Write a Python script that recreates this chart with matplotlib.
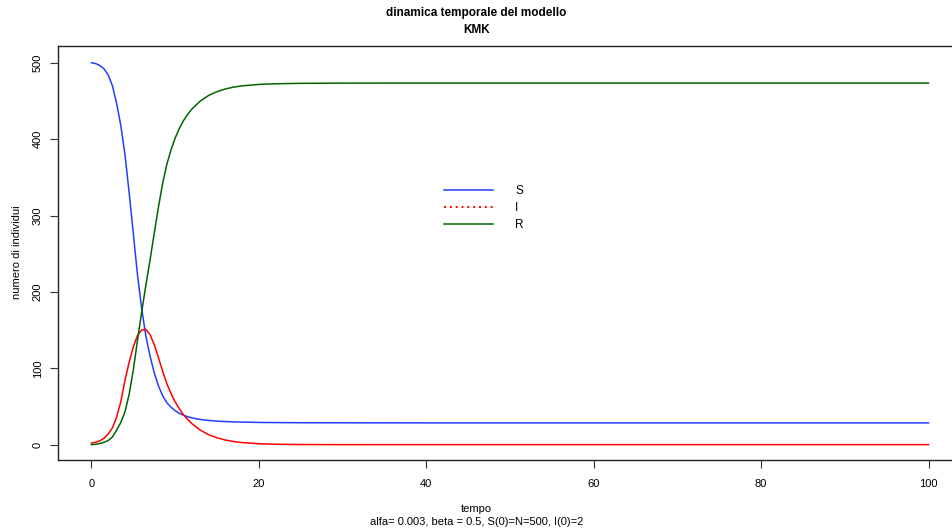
import matplotlib
matplotlib.use("Agg")
import matplotlib.pyplot as plt
import matplotlib.font_manager as fm
from matplotlib.lines import Line2D

names = {f.name for f in fm.fontManager.ttflist}
fam = ['Liberation Sans Narrow', 'Liberation Sans', 'DejaVu Sans'] if 'Liberation Sans Narrow' in names else ['Liberation Sans', 'DejaVu Sans']
plt.rcParams['font.family'] = fam

# time points and values
tempo = [0, 0.5, 1, 1.5, 2, 2.5, 3, 3.5, 4, 4.5, 5, 5.5, 6, 6.5, 7, 7.5, 8, 8.5, 9, 9.5,
         10, 10.5, 11, 11.5, 12, 13, 14, 15, 16, 17, 18, 20, 22, 25, 30, 40, 50, 60, 70, 80, 90, 100]
S = [500, 499, 496.5, 492, 484, 470, 447, 418, 380, 330, 276, 222, 178, 142, 116, 94, 77, 64, 55, 49,
     44.5, 41, 38.5, 36.5, 35, 33, 31.7, 30.8, 30.2, 29.8, 29.5, 29.1, 28.9, 28.7, 28.6, 28.5, 28.5,
     28.5, 28.5, 28.5, 28.5, 28.5]
I = [2, 3.2, 5, 8.5, 14, 22, 36, 56, 84, 108, 128, 143, 150, 151, 144, 131, 114, 96, 80, 67,
     56, 47, 39, 33, 27.5, 19, 13, 9, 6, 4, 2.7, 1.2, 0.5, 0.15, 0.02, 0, 0, 0, 0, 0, 0, 0]
R = [0, 0.5, 1.5, 3, 5.5, 10, 19, 29, 43, 66, 98, 137, 174, 209, 242, 277, 311, 342, 367, 386,
     401.5, 414, 424.5, 432.5, 439.5, 450, 457.3, 462.2, 465.8, 468.2, 469.8, 471.7, 472.6, 473.1,
     473.4, 473.5, 473.5, 473.5, 473.5, 473.5, 473.5, 473.5]

series_labels = ['S', 'I', 'R']
xticks = [0, 20, 40, 60, 80, 100]
yticks = [0, 100, 200, 300, 400, 500]

W, H = 953, 532
fig = plt.figure(figsize=(W / 100, H / 100), dpi=100)
ax = fig.add_axes([58 / W, (H - 460) / H, (962 - 58) / W, (460 - 46) / H])

ax.plot(tempo, S, color='#1f3fff', lw=1.1)
ax.plot(tempo, I, color='#ff0000', lw=1.1)
ax.plot(tempo, R, color='#006400', lw=1.1)

ax.set_xlim(-4, 104)
ax.set_ylim(-20.1, 522)
ax.set_xticks(xticks)
ax.set_yticks(yticks)
ax.set_xticklabels([str(v) for v in xticks], fontsize=8)
ax.set_yticklabels([str(v) for v in yticks], fontsize=8, rotation=90, va='center')
ax.tick_params(direction='out', length=6, width=0.8, color='#333333', pad=8)
ax.tick_params(axis='y', pad=5)
for s in ax.spines.values():
    s.set_linewidth(1.0)
    s.set_color('#222222')

# legend (I shown dotted, as in the reference)
handles = [Line2D([], [], color='#1f3fff', lw=1.1),
           Line2D([], [], color='#ff0000', lw=1.4, ls=(0, (1, 2))),
           Line2D([], [], color='#006400', lw=1.1)]
ax.legend(handles, series_labels, loc='center left',
          bbox_to_anchor=((433 - 58) / (962 - 58), 1 - (208 - 46) / (460 - 46)),
          frameon=False, fontsize=8.5, handlelength=4.15, handletextpad=1.9,
          labelspacing=0.45)

fig.text(0.5, 1 - 13 / H, 'dinamica temporale del modello', ha='center', va='center',
         fontsize=8.5, fontweight='bold')
fig.text(0.5, 1 - 30 / H, 'KMK', ha='center', va='center', fontsize=8.5, fontweight='bold')
fig.text(0.5, 1 - 509 / H, 'tempo', ha='center', va='center', fontsize=8)
fig.text(0.5, 1 - 522 / H, 'alfa= 0.003, beta = 0.5, S(0)=N=500, I(0)=2', ha='center',
         va='center', fontsize=8)
fig.text(17 / W, 1 - 252 / H, 'numero di individui', ha='center', va='center',
         rotation=90, fontsize=8)

fig.savefig('out.png', dpi=100)
